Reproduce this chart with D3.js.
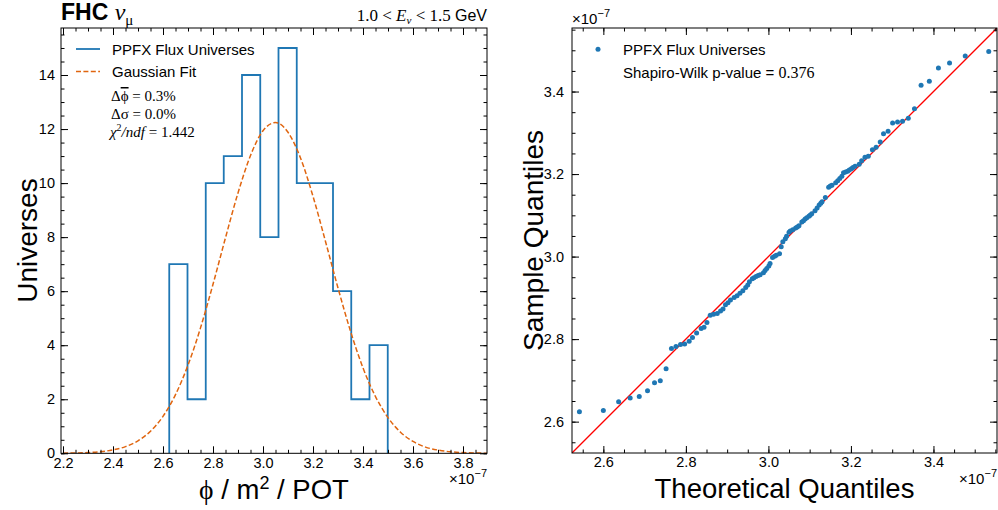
<!DOCTYPE html>
<html>
<head>
<meta charset="utf-8">
<script src="https://cdn.jsdelivr.net/npm/d3@7"></script>
<style>
  body { margin: 0; background: #fff; }
  svg text { font-family: "Liberation Sans", Arial, sans-serif; fill: #000; }
  .serif { font-family: "Liberation Serif", "Times New Roman", serif; }
</style>
</head>
<body>
<svg id="chart" width="998" height="510"></svg>
<script>
// flux values are in units of 1e-7
const binEdges = [2.625, 2.698, 2.771, 2.843, 2.916, 2.989, 3.062, 3.135, 3.207, 3.280, 3.353, 3.426, 3.499];
const binCounts = [7, 2, 10, 11, 14, 8, 15, 10, 10, 6, 2, 4];

// gaussian fit curve, read every 0.05
const fitX = [2.20, 2.25, 2.30, 2.35, 2.40, 2.45, 2.50, 2.55, 2.60, 2.65, 2.70, 2.75, 2.80, 2.85, 2.90, 2.95, 3.00,
              3.05, 3.10, 3.15, 3.20, 3.25, 3.30, 3.35, 3.40, 3.45, 3.50, 3.55, 3.60, 3.65, 3.70, 3.75, 3.80, 3.85, 3.90];
const fitY = [0.005, 0.012, 0.027, 0.060, 0.125, 0.247, 0.461, 0.816, 1.368, 2.172, 3.263, 4.641, 6.255, 7.978, 9.636, 11.02, 11.94,
              12.24, 11.88, 10.93, 9.51, 7.84, 6.12, 4.52, 3.16, 2.10, 1.32, 0.78, 0.44, 0.23, 0.12, 0.056, 0.026, 0.011, 0.004];

const histXTicks = [2.2, 2.4, 2.6, 2.8, 3.0, 3.2, 3.4, 3.6, 3.8];
const histYTicks = [0, 2, 4, 6, 8, 10, 12, 14];

// Q-Q plot points
const theoQ = [2.542, 2.600, 2.637, 2.665, 2.687, 2.707, 2.724, 2.738, 2.752, 2.765, 2.776, 2.787, 2.797, 2.808, 2.816,
  2.826, 2.837, 2.844, 2.851, 2.859, 2.867, 2.876, 2.884, 2.890, 2.896, 2.902, 2.908, 2.917, 2.924, 2.931,
  2.938, 2.945, 2.950, 2.954, 2.961, 2.965, 2.970, 2.975, 2.980, 2.988, 2.992, 2.996, 3.001, 3.004, 3.010,
  3.015, 3.019, 3.027, 3.031, 3.035, 3.041, 3.044, 3.050, 3.053, 3.059, 3.066, 3.070, 3.074, 3.081, 3.085,
  3.089, 3.093, 3.098, 3.101, 3.105, 3.113, 3.118, 3.123, 3.127, 3.130, 3.138, 3.146, 3.150, 3.154, 3.163,
  3.168, 3.173, 3.178, 3.182, 3.187, 3.192, 3.196, 3.201, 3.205, 3.210, 3.220, 3.226, 3.234, 3.242, 3.252,
  3.261, 3.271, 3.279, 3.290, 3.301, 3.313, 3.325, 3.339, 3.354, 3.370, 3.390, 3.412, 3.439, 3.477, 3.534];
const sampleQ = [2.624, 2.627, 2.648, 2.657, 2.661, 2.675, 2.694, 2.699, 2.728, 2.777, 2.782, 2.787, 2.788, 2.795, 2.804,
  2.815, 2.826, 2.829, 2.840, 2.858, 2.860, 2.862, 2.868, 2.873, 2.883, 2.888, 2.895, 2.901, 2.905, 2.911,
  2.917, 2.925, 2.931, 2.939, 2.946, 2.949, 2.952, 2.954, 2.956, 2.961, 2.966, 2.971, 2.977, 2.983, 2.998,
  3.001, 3.003, 3.007, 3.024, 3.036, 3.043, 3.049, 3.059, 3.062, 3.065, 3.069, 3.072, 3.075, 3.084, 3.087,
  3.091, 3.094, 3.098, 3.100, 3.104, 3.111, 3.118, 3.125, 3.129, 3.133, 3.143, 3.168, 3.171, 3.173, 3.179,
  3.184, 3.189, 3.195, 3.203, 3.205, 3.207, 3.210, 3.213, 3.216, 3.219, 3.224, 3.232, 3.241, 3.243, 3.259,
  3.265, 3.278, 3.298, 3.304, 3.324, 3.326, 3.328, 3.335, 3.358, 3.415, 3.425, 3.457, 3.469, 3.486, 3.497];
const qqTicks = [2.6, 2.8, 3.0, 3.2, 3.4];

const blue = '#1f77b4';
const orange = '#e0650f';

const svg = d3.select('#chart');

// scales
const xHist = d3.scaleLinear().domain([2.192, 3.896]).range([61, 487]);
const yHist = d3.scaleLinear().domain([0, 15.74]).range([453.3, 28]);
const xQQ = d3.scaleLinear().domain([2.524, 3.554]).range([572, 997]);
const yQQ = d3.scaleLinear().domain([2.524, 3.554]).range([453, 28]);

function minorTicks(scale, step) {
  const [a, b] = scale.domain();
  const out = [];
  for (let i = Math.ceil(a / step - 1e-9); i * step <= b + 1e-9; i++) out.push(+(i * step).toFixed(4));
  return out;
}

function drawAxes(x, y, xMajor, yMajor, xFmt, yFmt, yPad, minX, minY) {
  const [x0, x1] = x.range();
  const [y0, y1] = y.range();
  const g = svg.append('g');
  const style = sel => {
    sel.select('.domain').remove();
    sel.attr('font-size', 14.5).attr('font-family', '"Liberation Sans", Arial, sans-serif');
    sel.selectAll('line').attr('stroke', '#000').attr('stroke-width', 1);
  };
  g.append('g').attr('transform', `translate(0,${y0})`)
    .call(d3.axisBottom(x).tickValues(xMajor).tickSize(-7).tickPadding(4).tickFormat(xFmt)).call(style);
  g.append('g').attr('transform', `translate(0,${y0})`)
    .call(d3.axisBottom(x).tickValues(minX).tickSize(-3.5).tickFormat('')).call(style);
  g.append('g').attr('transform', `translate(0,${y1})`)
    .call(d3.axisTop(x).tickValues(xMajor).tickSize(-7).tickFormat('')).call(style);
  g.append('g').attr('transform', `translate(0,${y1})`)
    .call(d3.axisTop(x).tickValues(minX).tickSize(-3.5).tickFormat('')).call(style);
  g.append('g').attr('transform', `translate(${x0},0)`)
    .call(d3.axisLeft(y).tickValues(yMajor).tickSize(-7).tickPadding(yPad).tickFormat(yFmt)).call(style);
  g.append('g').attr('transform', `translate(${x0},0)`)
    .call(d3.axisLeft(y).tickValues(minY).tickSize(-3.5).tickFormat('')).call(style);
  g.append('g').attr('transform', `translate(${x1},0)`)
    .call(d3.axisRight(y).tickValues(yMajor).tickSize(-7).tickFormat('')).call(style);
  g.append('g').attr('transform', `translate(${x1},0)`)
    .call(d3.axisRight(y).tickValues(minY).tickSize(-3.5).tickFormat('')).call(style);
  g.append('rect')
    .attr('x', x0).attr('y', y1).attr('width', x1 - x0).attr('height', y0 - y1)
    .attr('fill', 'none').attr('stroke', '#000').attr('stroke-width', 1);
}

function offsetText(x, y, anchor) {
  const t = svg.append('text').attr('x', x).attr('y', y).attr('text-anchor', anchor).attr('font-size', 15);
  t.append('tspan').text('\u00d710');
  t.append('tspan').attr('font-size', 11).attr('dy', -7).text('\u22127');
}

// clip paths
const defs = svg.append('defs');
defs.append('clipPath').attr('id', 'clipL').append('rect')
  .attr('x', 61).attr('y', 28).attr('width', 426).attr('height', 425.3);
defs.append('clipPath').attr('id', 'clipR').append('rect')
  .attr('x', 572).attr('y', 28).attr('width', 425).attr('height', 425);

// ---------- left panel: histogram ----------
const stepPts = [[binEdges[0], 0]];
binCounts.forEach((c, i) => {
  stepPts.push([binEdges[i], c]);
  stepPts.push([binEdges[i + 1], c]);
});
stepPts.push([binEdges[binEdges.length - 1], 0]);

const plotL = svg.append('g').attr('clip-path', 'url(#clipL)');

plotL.append('path')
  .datum(stepPts)
  .attr('d', d3.line().x(d => xHist(d[0])).y(d => yHist(d[1])))
  .attr('fill', 'none')
  .attr('stroke', blue)
  .attr('stroke-width', 1.8);

plotL.append('path')
  .datum(fitX.map((v, i) => [v, fitY[i]]))
  .attr('d', d3.line().curve(d3.curveMonotoneX).x(d => xHist(d[0])).y(d => yHist(d[1])))
  .attr('fill', 'none')
  .attr('stroke', orange)
  .attr('stroke-width', 1.5)
  .attr('stroke-dasharray', '5,2.4');

drawAxes(xHist, yHist, histXTicks, histYTicks, d3.format('.1f'), d3.format('d'), 6,
  minorTicks(xHist, 0.05), minorTicks(yHist, 0.5));
offsetText(487, 484, 'end');

// legend
svg.append('line').attr('x1', 76).attr('x2', 100).attr('y1', 49).attr('y2', 49)
  .attr('stroke', blue).attr('stroke-width', 1.8);
svg.append('text').attr('x', 112).attr('y', 54.5).attr('font-size', 15).text('PPFX Flux Universes');
svg.append('line').attr('x1', 76).attr('x2', 100).attr('y1', 71.5).attr('y2', 71.5)
  .attr('stroke', orange).attr('stroke-width', 1.5).attr('stroke-dasharray', '5,2.4');
svg.append('text').attr('x', 112).attr('y', 77).attr('font-size', 15).text('Gaussian Fit');

const m1 = svg.append('text').attr('class', 'serif').attr('x', 111).attr('y', 101).attr('font-size', 15);
m1.append('tspan').text('\u0394');
m1.append('tspan').style('text-decoration', 'overline').text('\u03d5');
m1.append('tspan').text(' = 0.3%');
const m2 = svg.append('text').attr('class', 'serif').attr('x', 111).attr('y', 118.5).attr('font-size', 15);
m2.append('tspan').text('\u0394\u03c3 = 0.0%');
const m3 = svg.append('text').attr('class', 'serif').attr('x', 110).attr('y', 136.5).attr('font-size', 15);
m3.append('tspan').attr('font-style', 'italic').text('\u03c7');
m3.append('tspan').attr('font-size', 10).attr('dy', -6).text('2');
m3.append('tspan').attr('dy', 6).attr('font-style', 'italic').text('/ndf');
m3.append('tspan').text(' = 1.442');

// title
const ttl = svg.append('text').attr('x', 61).attr('y', 20);
ttl.append('tspan').attr('font-size', 23).attr('font-weight', 'bold').text('FHC ');
ttl.append('tspan').attr('class', 'serif').attr('font-size', 24).attr('font-style', 'italic').text('\u03bd');
ttl.append('tspan').attr('class', 'serif').attr('font-size', 15).attr('dy', 5).text('\u03bc');

const rng = svg.append('text').attr('x', 487).attr('y', 21).attr('text-anchor', 'end').attr('font-size', 17);
rng.append('tspan').attr('class', 'serif').text('1.0 < ');
rng.append('tspan').attr('class', 'serif').attr('font-style', 'italic').text('E');
rng.append('tspan').attr('class', 'serif').attr('font-style', 'italic').attr('font-size', 11).attr('dy', 3).text('\u03bd');
rng.append('tspan').attr('class', 'serif').attr('dy', -3).text(' < 1.5 ');
rng.append('tspan').attr('font-size', 16).text('GeV');

// axis labels
svg.append('text').attr('transform', 'translate(37,240.6) rotate(-90)').attr('text-anchor', 'middle')
  .attr('font-size', 28).text('Universes');
const xl = svg.append('text').attr('x', 274).attr('y', 499).attr('text-anchor', 'middle').attr('font-size', 27.5);
xl.append('tspan').attr('class', 'serif').text('\u03d5');
xl.append('tspan').text(' / m');
xl.append('tspan').attr('font-size', 18).attr('dy', -10).text('2');
xl.append('tspan').attr('dy', 10).text(' / POT');

// ---------- right panel: Q-Q plot ----------
const plotR = svg.append('g').attr('clip-path', 'url(#clipR)');
plotR.append('line')
  .attr('x1', xQQ(xQQ.domain()[0])).attr('y1', yQQ(xQQ.domain()[0]))
  .attr('x2', xQQ(xQQ.domain()[1])).attr('y2', yQQ(xQQ.domain()[1]))
  .attr('stroke', '#ff0000').attr('stroke-width', 1.3);

plotR.selectAll('circle.pt')
  .data(theoQ.map((v, i) => ({ t: v, s: sampleQ[i] })))
  .enter()
  .append('circle')
  .attr('class', 'pt')
  .attr('cx', d => xQQ(d.t))
  .attr('cy', d => yQQ(d.s))
  .attr('r', 2.5)
  .attr('fill', blue);

drawAxes(xQQ, yQQ, qqTicks, qqTicks, d3.format('.1f'), d3.format('.1f'), 8,
  minorTicks(xQQ, 0.05), minorTicks(yQQ, 0.05));
offsetText(997, 484, 'end');
offsetText(572, 24, 'start');

svg.append('circle').attr('cx', 598).attr('cy', 49.3).attr('r', 2.5).attr('fill', blue);
svg.append('text').attr('x', 623).attr('y', 54.5).attr('font-size', 15).text('PPFX Flux Universes');
const sw = svg.append('text').attr('x', 623).attr('y', 77.5).attr('font-size', 15);
sw.append('tspan').text('Shapiro-Wilk p-value = ');
sw.append('tspan').attr('class', 'serif').attr('font-size', 16).text('0.376');

svg.append('text').attr('transform', 'translate(543,240.5) rotate(-90)').attr('text-anchor', 'middle')
  .attr('font-size', 28).text('Sample Quantiles');
svg.append('text').attr('x', 784.5).attr('y', 497.5).attr('text-anchor', 'middle')
  .attr('font-size', 27.5).text('Theoretical Quantiles');
</script>
</body>
</html>
